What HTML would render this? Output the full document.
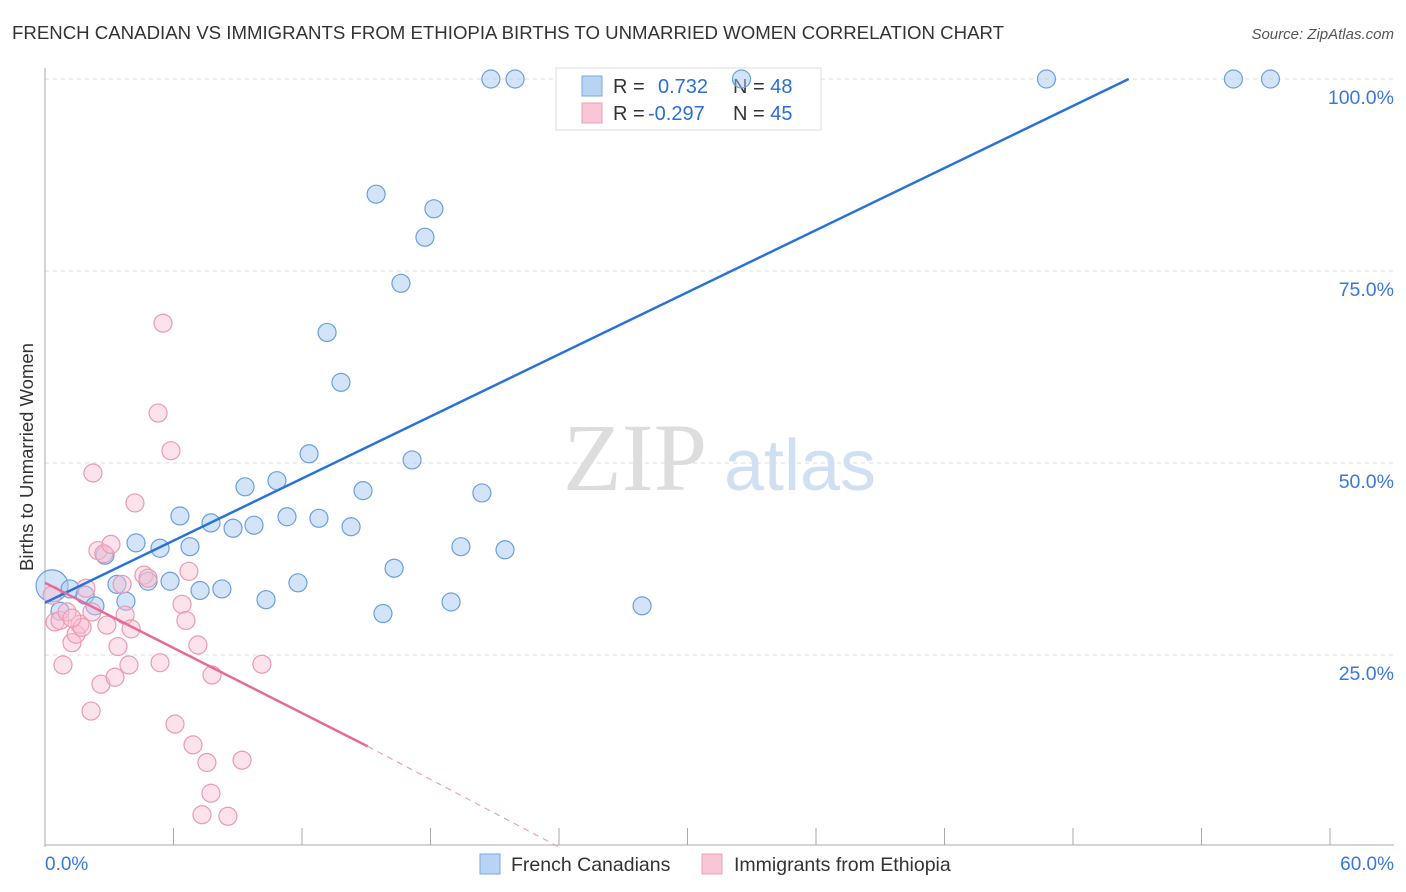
<!DOCTYPE html>
<html><head><meta charset="utf-8"><style>
body{margin:0;background:#fff;font-family:"Liberation Sans",sans-serif;}
svg{display:block}
</style></head><body>
<svg id="chart" width="1406" height="892">
<text x="12" y="39" font-size="18" fill="#333" textLength="992" lengthAdjust="spacingAndGlyphs">FRENCH CANADIAN VS IMMIGRANTS FROM ETHIOPIA BIRTHS TO UNMARRIED WOMEN CORRELATION CHART</text>
<text x="1394" y="39" font-size="15" fill="#555" font-style="italic" text-anchor="end">Source: ZipAtlas.com</text>
<text x="33" y="457" font-size="18.5" fill="#333" text-anchor="middle" transform="rotate(-90 33 457)">Births to Unmarried Women</text>
<g><text x="635" y="490" font-size="96" fill="#ddd" font-family="Liberation Serif" text-anchor="middle">ZIP</text><text x="800" y="490" font-size="72" fill="#d0dff2" text-anchor="middle">atlas</text></g>
<g id="grid"></g>
<g>
<rect x="556" y="68" width="265" height="62" fill="#fff" stroke="#ddd"/>
<rect x="582" y="76" width="20" height="20" fill="#b8d4f5" stroke="#7aa7e0"/>
<rect x="582" y="103" width="20" height="20" fill="#f9c6d5" stroke="#eaa0b8"/>
<text x="613" y="93" font-size="20" fill="#333">R = <tspan fill="#2a6fd6" x="658">0.732</tspan><tspan x="733" fill="#333">N = </tspan><tspan fill="#2a6fd6">48</tspan></text>
<text x="613" y="120" font-size="20" fill="#333">R = <tspan fill="#2a6fd6" x="648">-0.297</tspan><tspan x="733" fill="#333">N = </tspan><tspan fill="#2a6fd6">45</tspan></text>
</g>
<g id="marks"></g>
<g>
<rect x="480" y="854" width="20" height="20" fill="#b8d4f5" stroke="#7aa7e0"/>
<text x="511" y="871" font-size="19.5" fill="#333">French Canadians</text>
<rect x="702" y="854" width="20" height="20" fill="#f9c6d5" stroke="#eaa0b8"/>
<text x="734" y="871" font-size="19.5" fill="#333">Immigrants from Ethiopia</text>
</g>
<text x="45" y="870" font-size="19" fill="#3a78d8">0.0%</text>
<text x="1394" y="870" font-size="19" fill="#3a78d8" text-anchor="end">60.0%</text>
</svg>
<script>
const yTicks=[25,50,75,100];
const yTickLabels=["25.0%","50.0%","75.0%","100.0%"];
const blueX=[0.33,1.17,1.87,2.33,0.7,2.8,3.36,3.78,4.25,4.81,5.37,5.84,6.3,6.77,7.24,7.75,8.26,8.78,9.34,9.76,10.32,10.83,11.3,11.81,12.33,12.79,13.17,13.82,14.29,14.85,15.46,15.78,16.3,16.62,17.14,17.74,18.16,18.96,19.42,20.4,20.82,21.48,21.95,27.88,32.52,46.76,55.49,57.22];
const blueY=[34.0,33.6,32.8,31.4,30.7,38.0,34.2,32.0,39.6,34.6,38.9,34.6,43.1,39.1,33.4,42.2,33.6,41.5,46.9,41.9,32.2,47.7,43.0,34.4,51.2,42.8,67.0,60.5,41.7,46.4,85.0,30.4,36.3,73.4,50.4,79.4,83.1,31.9,39.1,46.1,100,38.7,100,31.4,100,100,100,100];
const pinkX=[0.33,0.47,0.7,0.84,1.03,1.26,1.45,1.63,1.91,1.73,2.15,2.19,2.47,2.61,2.75,2.89,3.08,3.27,3.41,3.6,3.74,3.92,4.02,4.2,2.24,4.62,4.81,5.28,5.37,5.51,5.88,6.07,6.4,6.58,6.72,6.91,7.14,7.33,7.56,7.75,7.8,8.54,9.2,10.13,1.26];
const pinkY=[32.8,29.3,29.5,23.7,30.6,26.6,27.7,29.0,33.7,28.6,17.7,30.6,38.6,21.2,38.2,28.9,39.4,22.1,26.1,34.2,30.2,23.7,28.4,44.8,48.7,35.4,35.0,56.5,24.0,68.2,51.6,16.0,31.6,29.5,35.9,13.3,26.3,4.2,11.0,7.0,22.4,4.0,11.3,23.8,29.8];
const blueFit=[[0,31.8],[50.6,100]];
const pinkFit=[[0,34.4],[15.07,13.1]];
const pinkDash=[[15.07,13.1],[24.0,0]];
const X=v=>45+v/60*1285, Y=v=>847-v/100*768;
const NS="http://www.w3.org/2000/svg";
function mk(tag,attrs,parent){const e=document.createElementNS(NS,tag);for(const k in attrs)e.setAttribute(k,attrs[k]);parent.appendChild(e);return e;}
const grid=document.getElementById('grid'),marks=document.getElementById('marks');
yTicks.forEach((t,i)=>{
 const l=mk('line',{x1:45,x2:1394,y1:Y(t),y2:Y(t),stroke:'#ddd','stroke-dasharray':'4 4'},grid);
 
 
 const tx=mk('text',{x:1394,y:Y(t)+25,'font-size':19.5,fill:'#3a78d8','text-anchor':'end'},grid);
 tx.textContent=yTickLabels[i];
 
 
});
const ax=mk('line',{x1:45,x2:45,y1:68,y2:847,stroke:'#aaa'},grid);


const bx=mk('line',{x1:45,x2:1394,y1:845,y2:845,stroke:'#aaa'},grid);


for(let i=0;i<=10;i++){const t=mk('line',{x1:X(i*6),x2:X(i*6),y1:828,y2:845,stroke:'#aaa'},grid);
 
 }
blueX.forEach((v,i)=>{const c=mk('circle',{cx:X(v),cy:Y(blueY[i]),r:i==0?16:9,fill:'rgba(170,202,242,0.5)',stroke:'#6a9fe0','stroke-width':1.2},marks);
 
 });
pinkX.forEach((v,i)=>{const c=mk('circle',{cx:X(v),cy:Y(pinkY[i]),r:9,fill:'rgba(248,190,208,0.45)',stroke:'#eb9ab4','stroke-width':1.2},marks);
 
 });
const bl=mk('line',{x1:X(blueFit[0][0]),y1:Y(blueFit[0][1]),x2:X(blueFit[1][0]),y2:Y(blueFit[1][1]),stroke:'#2a72d8','stroke-width':2.5},marks);


const pl=mk('line',{x1:X(pinkFit[0][0]),y1:Y(pinkFit[0][1]),x2:X(pinkFit[1][0]),y2:Y(pinkFit[1][1]),stroke:'#e66a98','stroke-width':2.5},marks);


const pd=mk('line',{x1:X(pinkDash[0][0]),y1:Y(pinkDash[0][1]),x2:X(pinkDash[1][0]),y2:Y(pinkDash[1][1]),stroke:'#eba0bb','stroke-width':1.2,'stroke-dasharray':'6 5'},marks);


</script>
</body></html>
